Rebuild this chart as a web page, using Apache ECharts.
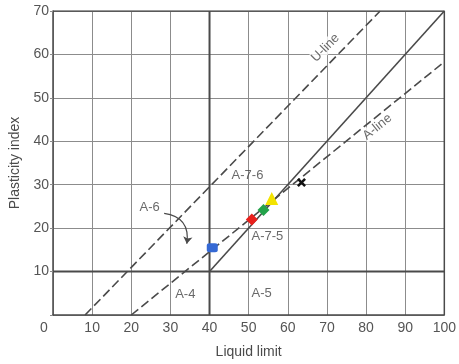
<!DOCTYPE html>
<html>
<head>
<meta charset="utf-8">
<script src="https://cdn.jsdelivr.net/npm/echarts@6/dist/echarts.min.js"></script>
<style>
  html, body { margin: 0; padding: 0; background: #fff; }
  #chart { width: 459px; height: 364px; }
</style>
</head>
<body>
<div id="chart"></div>
<script>
// 塑性图 (plasticity chart)
const xTicks = [0, 10, 20, 30, 40, 50, 60, 70, 80, 90, 100]
const yTicks = [0, 10, 20, 30, 40, 50, 60, 70]

const uLine = [[8.2, 0], [83.6, 70]]
const aLine = [[20, 0], [100, 58.3]]
const splitLine = [[40, 10], [100, 70]]
const llBoundary = [[40, 0], [40, 70]]
const piBoundary = [[0, 10], [100, 10]]

const regionLabels = [
  [49.7, 32.1, 'A-7-6'],
  [54.8, 18.1, 'A-7-5'],
  [53.3, 5.0, 'A-5'],
  [33.8, 4.8, 'A-4'],
  [24.7, 24.8, 'A-6']
]
const lineLabels = [
  [69.6, 61.5, 'U-line', 45],
  [82.9, 43.3, 'A-line', 39]
]
const arrowPath = [[28.4, 23.4], [34.2, 16.4]]

const blueSample = [[40.7, 15.5]]
const redSample = [[50.8, 22.0]]
const greenSample = [[53.8, 24.2]]
const yellowSample = [[55.9, 26.8]]
const blackSample = [[63.5, 30.5]]

const ink = '#4a4a4a'
const gridCol = '#8c8c8c'
const font = 'Liberation Sans'

const myChart = echarts.init(document.getElementById('chart'))

function guide(data, dashed, width) {
  return {
    type: 'line',
    data: data,
    symbol: 'none',
    silent: true,
    lineStyle: {
      color: ink,
      width: width,
      type: dashed ? [9, 4] : 'solid'
    },
    z: 3
  }
}

function sample(data, symbol, size, color) {
  return {
    type: 'scatter',
    data: data,
    symbol: symbol,
    symbolSize: size,
    itemStyle: { color: color, opacity: 1 },
    z: 10
  }
}

myChart.setOption({
  backgroundColor: '#fff',
  animation: false,
  grid: { left: 52.5, right: 11.5, top: 11, bottom: 48 },
  xAxis: {
    type: 'value',
    min: xTicks[0],
    max: xTicks[xTicks.length - 1],
    interval: 10,
    name: 'Liquid limit',
    nameLocation: 'middle',
    nameGap: 30,
    nameTextStyle: { color: ink, fontSize: 14, fontFamily: font },
    axisLine: { show: true, lineStyle: { color: ink, width: 1.5 } },
    axisTick: { show: false },
    axisLabel: {
      color: '#555',
      fontSize: 14,
      fontFamily: font,
      margin: 6,
      formatter: v => v === 0 ? '{z|0}' : String(v),
      rich: { z: { color: '#555', fontSize: 14, fontFamily: font, padding: [0, 18, 0, 0] } }
    },
    splitLine: { show: true, lineStyle: { color: gridCol, width: 1 } }
  },
  yAxis: {
    type: 'value',
    min: yTicks[0],
    max: yTicks[yTicks.length - 1],
    interval: 10,
    name: 'Plasticity index',
    nameLocation: 'middle',
    nameGap: 31,
    nameTextStyle: { color: ink, fontSize: 14, fontFamily: font },
    axisLine: { show: true, lineStyle: { color: ink, width: 1.5 } },
    axisTick: { show: true, length: 3, lineStyle: { color: gridCol } },
    axisLabel: {
      color: '#555',
      fontSize: 14,
      fontFamily: font,
      margin: 4,
      formatter: v => v === 0 ? '' : String(v)
    },
    splitLine: { show: true, lineStyle: { color: gridCol, width: 1 } }
  },
  series: [
    guide(uLine, true, 1.6),
    guide(aLine, true, 1.6),
    guide(splitLine, false, 1.6),
    guide(llBoundary, false, 2),
    guide(piBoundary, false, 2),
    // 右边和上边的框
    guide([[0, 70], [100, 70], [100, 0]], false, 1.5),
    {
      type: 'scatter',
      data: regionLabels,
      symbolSize: 0,
      silent: true,
      label: {
        show: true,
        position: 'inside',
        formatter: p => p.data[2],
        color: '#444',
        fontSize: 13,
        fontFamily: font
      },
      z: 6
    },
    {
      type: 'scatter',
      data: lineLabels.map(d => ({
        value: [d[0], d[1]],
        name: d[2],
        label: { rotate: d[3] }
      })),
      symbolSize: 0,
      silent: true,
      label: {
        show: true,
        position: 'inside',
        formatter: p => p.name,
        color: '#444',
        fontSize: 13,
        fontFamily: font,
        backgroundColor: '#fff',
        padding: [0, 1]
      },
      z: 6
    },
    {
      type: 'lines',
      coordinateSystem: 'cartesian2d',
      silent: true,
      symbol: ['none', 'arrow'],
      symbolSize: 7,
      lineStyle: { color: ink, width: 1.2, opacity: 1, curveness: 0.5 },
      data: [{ coords: arrowPath }],
      z: 6
    },
    sample(blueSample, 'roundRect', [11, 9], '#3569d4'),
    sample(redSample, 'diamond', 12, '#e8201c'),
    sample(greenSample, 'diamond', 12, '#23a24a'),
    sample(yellowSample, 'triangle', 13, '#f3e300'),
    sample(blackSample, 'path://M0,2 L2,0 L5,3 L8,0 L10,2 L7,5 L10,8 L8,10 L5,7 L2,10 L0,8 L3,5 Z', 9, '#111')
  ]
})
</script>
</body>
</html>
